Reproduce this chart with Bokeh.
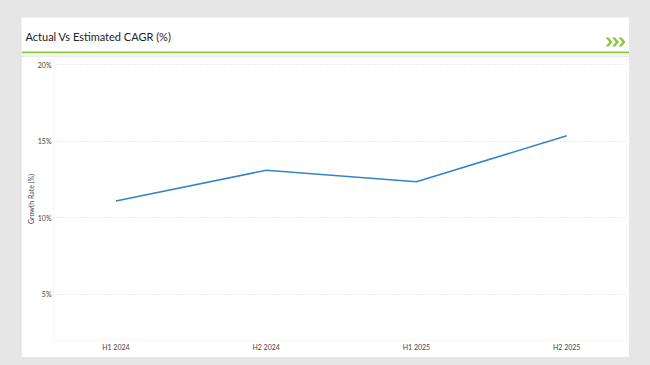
from bokeh.plotting import figure
from bokeh.models import Range1d, FixedTicker
from bokeh.layouts import column
from bokeh.core.properties import value
from bokeh.embed import file_html
from bokeh.resources import INLINE

# ---- data ----
periods = ["H1 2024", "H2 2024", "H1 2025", "H2 2025"]
growth_rate = [11.1, 13.1, 12.35, 15.35]
y_ticks = [5, 10, 15, 20]
y_tick_labels = ["5%", "10%", "15%", "20%"]
title_text = "Actual Vs Estimated CAGR (%)"
y_axis_title = "Growth Rate (%)"

GREY = "#e6e6e6"
GREEN = "#8cc63f"
CARD_W = 608
HEAD_H = 39
MAIN_H = 301

# ---- header card ----
head = figure(width=CARD_W, height=HEAD_H, output_backend="svg", toolbar_location=None,
              x_range=Range1d(0, CARD_W), y_range=Range1d(HEAD_H, 0),
              min_border=0, x_axis_type=None, y_axis_type=None)
head.frame_align = False
head.margin = (17, 21, 0, 21)
head.border_fill_color = "white"
head.background_fill_color = "white"
head.outline_line_color = None
head.grid.visible = False
head.text(x=[4], y=[19], text=[title_text], text_font=value("Lato"), text_font_size="11px",
          text_color="#222222", text_baseline="alphabetic")

# decorative chevron icon (>>>)
chev_xs, chev_ys = [], []
for x0 in (584, 590.5, 597):
    chev_xs.append([x0, x0 + 3.2, x0 + 7, x0 + 3.2, x0, x0 + 3.8])
    chev_ys.append([20, 20, 24.5, 29, 29, 24.5])
head.patches(chev_xs, chev_ys, fill_color=GREEN, line_color=None)

head.quad(left=[0], right=[CARD_W], top=[34], bottom=[36], fill_color=GREEN, line_color=None)
head.quad(left=[0], right=[CARD_W], top=[36], bottom=[HEAD_H], fill_color="#f3f3f3", line_color=None)

# ---- chart card ----
p = figure(width=CARD_W, height=MAIN_H, output_backend="svg", toolbar_location=None,
           x_range=Range1d(-0.415, 3.398), y_range=Range1d(1.99, 20.46),
           min_border_left=32, min_border_right=3, min_border_top=1, min_border_bottom=17)
p.frame_align = False
p.margin = (0, 21, 8, 21)
p.border_fill_color = "white"
p.background_fill_color = "white"
p.outline_line_color = None

x_idx = list(range(len(periods)))
p.line(x_idx, growth_rate, line_color="#3584c4", line_width=1.6)

p.xaxis.ticker = FixedTicker(ticks=x_idx)
p.xaxis.major_label_overrides = {i: s for i, s in enumerate(periods)}
p.yaxis.ticker = FixedTicker(ticks=y_ticks)
p.yaxis.major_label_overrides = {t: s for t, s in zip(y_ticks, y_tick_labels)}
for ax in (p.xaxis[0], p.yaxis[0]):
    ax.axis_line_color = None
    ax.major_tick_line_color = None
    ax.minor_tick_line_color = None
    ax.major_tick_in = 0
    ax.major_tick_out = 0
    ax.major_label_text_font = "Lato"
    ax.major_label_text_font_size = "7px"
    ax.major_label_text_color = "#444444"
p.xaxis.major_label_standoff = 2
p.yaxis.major_label_standoff = 2
p.yaxis.axis_label = y_axis_title
p.yaxis.axis_label_text_font = "Lato"
p.yaxis.axis_label_text_font_size = "7px"
p.yaxis.axis_label_text_font_style = "normal"
p.yaxis.axis_label_text_color = "#444444"
p.yaxis.axis_label_standoff = 0

p.xgrid.grid_line_color = None
p.ygrid.grid_line_color = "#d9d9d9"
p.ygrid.grid_line_dash = "1 2"
p.ygrid.grid_line_width = 1

root = column(head, p, spacing=0, styles={"background-color": GREY})
open("out.html", "w").write(file_html(root, INLINE))
